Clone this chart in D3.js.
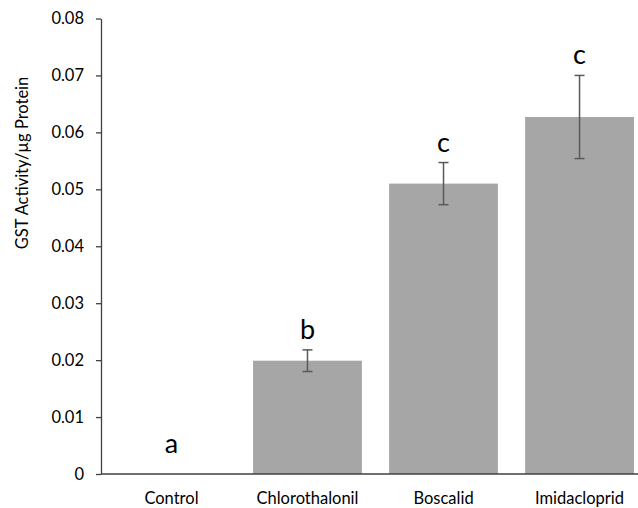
<!DOCTYPE html>
<html>
<head>
<meta charset="utf-8">
<script src="https://cdn.jsdelivr.net/npm/d3@7"></script>
<style>
  body { margin: 0; background: #fff; }
  svg { display: block; font-family: Lato, "Open Sans", sans-serif; }
</style>
</head>
<body>
<div id="chart"></div>
<script>
// data
const categories = ["Control", "Chlorothalonil", "Boscalid", "Imidacloprid"];
const means = [0, 0.0199, 0.0510, 0.0627];
const errors = [0, 0.0019, 0.0037, 0.0073];
const letters = ["a", "b", "c", "c"];
const yTicks = [0, 0.01, 0.02, 0.03, 0.04, 0.05, 0.06, 0.07, 0.08];

const width = 638;
const height = 508;
const marginLeft = 101;
const marginTop = 18.5;
const baseY = 474;

const svg = d3.select("#chart")
  .append("svg")
  .attr("width", width)
  .attr("height", height);

// scales
const x = d3.scaleBand()
  .domain(categories)
  .range([marginLeft, 650])
  .paddingInner(0.2)
  .paddingOuter(0.118);

const y = d3.scaleLinear()
  .domain([0, 0.08])
  .range([baseY, marginTop]);

// bars
svg.append("g")
  .selectAll("rect")
  .data(means)
  .join("rect")
    .attr("x", (d, i) => x(categories[i]))
    .attr("y", d => y(d))
    .attr("width", x.bandwidth())
    .attr("height", d => baseY - y(d))
    .attr("fill", "#a6a6a6");

// error bars
const eb = svg.append("g")
  .attr("stroke", "#595959")
  .attr("stroke-width", 1.5)
  .selectAll("g")
  .data(means.map((m, i) => ({m, e: errors[i], c: categories[i]})).filter(d => d.e > 0))
  .join("g");

eb.append("line")
  .attr("x1", d => x(d.c) + x.bandwidth() / 2)
  .attr("x2", d => x(d.c) + x.bandwidth() / 2)
  .attr("y1", d => y(d.m - d.e))
  .attr("y2", d => y(d.m + d.e));
eb.selectAll(".cap")
  .data(d => [d.m - d.e, d.m + d.e].map(v => ({v, c: d.c})))
  .join("line")
    .attr("class", "cap")
    .attr("x1", d => x(d.c) + x.bandwidth() / 2 - 5)
    .attr("x2", d => x(d.c) + x.bandwidth() / 2 + 5)
    .attr("y1", d => y(d.v))
    .attr("y2", d => y(d.v));

// significance letters
svg.append("g")
  .selectAll("text")
  .data(letters)
  .join("text")
    .attr("x", (d, i) => x(categories[i]) + x.bandwidth() / 2)
    .attr("y", (d, i) => Math.min(y(means[i] + errors[i]) - 11, baseY - 21))
    .attr("text-anchor", "middle")
    .attr("font-size", 27)
    .attr("fill", "#000")
    .text(d => d);

// y axis
svg.append("g")
  .attr("transform", `translate(${marginLeft},0)`)
  .call(d3.axisLeft(y).tickValues(yTicks).tickSize(5).tickSizeOuter(0)
    .tickFormat(d => d === 0 ? "0" : d3.format(".2f")(d)))
  .call(g => g.select(".domain").attr("stroke", "#404040").attr("stroke-width", 1.3))
  .call(g => g.selectAll(".tick line").attr("stroke", "#404040").attr("stroke-width", 1.3))
  .call(g => g.selectAll(".tick text")
    .attr("x", -17)
    .attr("font-size", 16.5)
    .attr("font-family", "Lato, sans-serif")
    .attr("fill", "#000"));

// x axis
svg.append("g")
  .attr("transform", `translate(0,${baseY})`)
  .call(d3.axisBottom(x).tickSize(0).tickSizeOuter(0))
  .call(g => g.select(".domain")
    .attr("d", `M${marginLeft},0H${width}`)
    .attr("stroke", "#404040").attr("stroke-width", 1.3))
  .call(g => g.selectAll(".tick text")
    .attr("y", 30)
    .attr("dy", 0)
    .attr("font-size", 16.5)
    .attr("font-family", "Lato, sans-serif")
    .attr("fill", "#000"));

// y axis title
svg.append("text")
  .attr("transform", `translate(28,163) rotate(-90)`)
  .attr("text-anchor", "middle")
  .attr("font-size", 16.5)
  .attr("fill", "#000")
  .text("GST Activity/µg Protein");
</script>
</body>
</html>
